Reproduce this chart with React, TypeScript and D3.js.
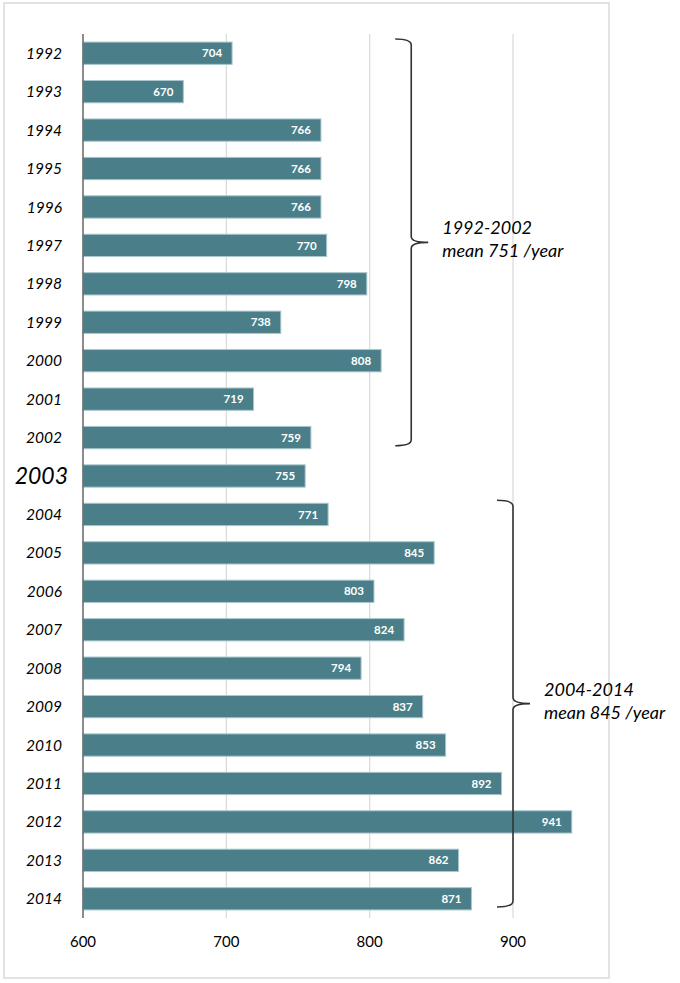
import * as d3 from 'd3';
import React, { useEffect, useRef } from 'react';

const years = [
  '1992', '1993', '1994', '1995', '1996', '1997', '1998', '1999', '2000', '2001', '2002', '2003',
  '2004', '2005', '2006', '2007', '2008', '2009', '2010', '2011', '2012', '2013', '2014',
];
const values = [704, 670, 766, 766, 766, 770, 798, 738, 808, 719, 759, 755, 771, 845, 803, 824, 794, 837, 853, 892, 941, 862, 871];
const xTicks = [600, 700, 800, 900];
const highlightYear = '2003';

// bracketed periods
const periodLabels = ['1992-2002', '2004-2014'];
const periodMeans = [751, 845];
const periodStart = ['1992', '2004'];
const periodEnd = ['2002', '2014'];
const periodBraceAt = [829, 900];

const W = 680;
const H = 983;

const App: React.FC = () => {
  const svgRef = useRef<SVGSVGElement>(null);

  useEffect(() => {
    const svg = d3.select(svgRef.current);
    svg.selectAll('*').remove();

    const font = 'Lato, "Open Sans", sans-serif';
    const top = 34;
    const bottom = 918;

    const x = d3.scaleLinear().domain([600, 900]).range([83, 513]);
    const y = d3.scaleBand<string>().domain(years).range([top, bottom]).paddingInner(0.42).paddingOuter(0.21);

    // frame
    svg
      .append('rect')
      .attr('x', 4)
      .attr('y', 3)
      .attr('width', 605)
      .attr('height', 975)
      .attr('fill', '#fff')
      .attr('stroke', '#d9d9d9')
      .attr('stroke-width', 1.5);

    // gridlines
    svg
      .append('g')
      .selectAll('line')
      .data(xTicks.slice(1))
      .enter()
      .append('line')
      .attr('x1', (d) => x(d))
      .attr('x2', (d) => x(d))
      .attr('y1', top)
      .attr('y2', bottom)
      .attr('stroke', '#d9d9d9')
      .attr('stroke-width', 1.2);

    // bars
    svg
      .append('g')
      .selectAll('rect')
      .data(years)
      .enter()
      .append('rect')
      .attr('x', x(600))
      .attr('y', (d) => y(d)!)
      .attr('width', (d, i) => x(values[i]) - x(600))
      .attr('height', y.bandwidth())
      .attr('fill', '#4a7f8a')
      .attr('stroke', '#a8c6cc')
      .attr('stroke-width', 1);

    // value labels
    svg
      .append('g')
      .selectAll('text')
      .data(years)
      .enter()
      .append('text')
      .attr('x', (d, i) => x(values[i]) - 10)
      .attr('y', (d) => y(d)! + y.bandwidth() / 2)
      .attr('dy', '0.36em')
      .attr('text-anchor', 'end')
      .attr('fill', '#fff')
      .attr('font-family', font)
      .attr('font-weight', 'bold')
      .attr('font-size', 11.5)
      .text((d, i) => values[i]);

    // year labels
    svg
      .append('g')
      .selectAll('text')
      .data(years)
      .enter()
      .append('text')
      .attr('x', (d) => (d === highlightYear ? 68 : 62))
      .attr('y', (d) => y(d)! + y.bandwidth() / 2)
      .attr('dy', '0.36em')
      .attr('text-anchor', 'end')
      .attr('fill', '#000')
      .attr('font-family', font)
      .attr('font-style', 'italic')
      .attr('font-size', (d) => (d === highlightYear ? 23 : 15.5))
      .text((d) => d);

    // left axis line
    svg
      .append('line')
      .attr('x1', x(600))
      .attr('x2', x(600))
      .attr('y1', top)
      .attr('y2', bottom)
      .attr('stroke', '#666')
      .attr('stroke-width', 1.5);

    // x tick labels
    svg
      .append('g')
      .selectAll('text')
      .data(xTicks)
      .enter()
      .append('text')
      .attr('x', (d) => x(d))
      .attr('y', 942)
      .attr('dy', '0.36em')
      .attr('text-anchor', 'middle')
      .attr('fill', '#000')
      .attr('font-family', font)
      .attr('font-size', 15)
      .text((d) => d);

    // braces + annotations
    periodLabels.forEach((label, i) => {
      const bx = x(periodBraceAt[i]);
      const y0 = y(periodStart[i])! - 3;
      const y1 = y(periodEnd[i])! + y.bandwidth() - 3;
      const mid = (y0 + y1) / 2;
      const hook = 16;
      const tip = 17;
      const r = 6;
      const path = [
        `M${bx - hook},${y0}`,
        `Q${bx},${y0} ${bx},${y0 + r}`,
        `L${bx},${mid - r}`,
        `Q${bx},${mid} ${bx + tip},${mid}`,
        `M${bx + tip},${mid}`,
        `Q${bx},${mid} ${bx},${mid + r}`,
        `L${bx},${y1 - r}`,
        `Q${bx},${y1} ${bx - hook},${y1}`,
      ].join(' ');
      svg
        .append('path')
        .attr('d', path)
        .attr('fill', 'none')
        .attr('stroke', '#333')
        .attr('stroke-width', 1.6);

      const t = svg
        .append('text')
        .attr('x', bx + tip + 14)
        .attr('font-family', font)
        .attr('font-style', 'italic')
        .attr('font-size', 18)
        .attr('fill', '#000');
      t.append('tspan').attr('x', bx + tip + 14).attr('y', mid - 8).text(label);
      t.append('tspan').attr('x', bx + tip + 14).attr('y', mid + 15).text(`mean ${periodMeans[i]} /year`);
    });
  }, []);

  return <svg ref={svgRef} width={W} height={H} style={{ position: 'absolute', left: 0, top: 0 }} />;
};

export default App;
